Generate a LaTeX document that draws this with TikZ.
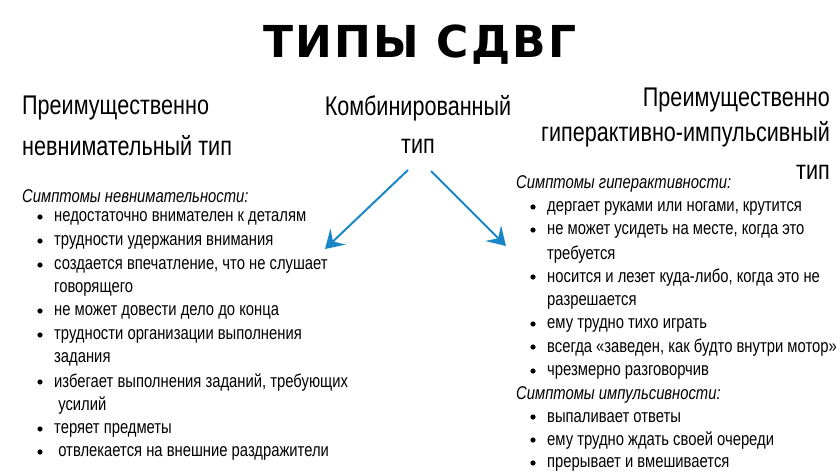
\documentclass[tikz,border=0pt]{standalone}
\usepackage{fontspec}
\setmainfont{Liberation Sans}[FakeStretch=0.8]
\newfontfamily\titlefont{DejaVu Sans}[LetterSpace=5]
\usetikzlibrary{arrows.meta,positioning}
\definecolor{arrowblue}{HTML}{1B86C6}
\tikzset{
  heading/.style={font=\fontsize{27}{30}\selectfont, inner sep=0pt},
  listhead/.style={font=\fontsize{18.5}{21}\selectfont\itshape, anchor=west, inner sep=0pt},
  item/.style={font=\fontsize{18.5}{21}\selectfont, anchor=west, inner sep=0pt},
  pointer/.style={draw=arrowblue, line width=2pt, -{Stealth[length=18pt,width=22pt,inset=7pt]}}
}
\begin{document}
\begin{tikzpicture}[x=1pt,y=-1pt]
  \useasboundingbox (0,0) rectangle (840,473);
  % title
  \node (title) at (420,45) {\titlefont\bfseries\fontsize{44}{50}\selectfont ТИПЫ СДВГ};
  % headings
  \node (inatt1) [heading, anchor=west] at (22,108) {Преимущественно};
  \node (inatt2) [heading, anchor=west] at (22,146) {невнимательный тип};
  \node (comb1) [heading] at (418,108) {Комбинированный};
  \node (comb2) [heading] at (418,146) {тип};
  \node (hyp1) [heading, anchor=east] at (830,100) {Преимущественно};
  \node (hyp2) [heading, anchor=east] at (830,134) {гиперактивно-импульсивный};
  \node (hyp3) [heading, anchor=east] at (830,172) {тип};
  % arrows
  \coordinate (lstart) at (408,170);
  \coordinate (lend) at (325,249);
  \coordinate (rstart) at (431,171);
  \coordinate (rend) at (506,246);
  \draw[pointer] (lstart) -- (lend);
  \draw[pointer] (rstart) -- (rend);
  % left list
  \node (inhead) [listhead] at (22,196) {Симптомы невнимательности:};
  \foreach \y/\b/\t in {218/1/недостаточно внимателен к деталям,
      242/1/трудности удержания внимания,
      266/1/{создается впечатление, что не слушает},
      289/0/говорящего,
      312/1/не может довести дело до конца,
      336/1/трудности организации выполнения,
      359/0/задания,
      383/1/{избегает выполнения заданий, требующих},
      406/0/{\ усилий},
      430/1/теряет предметы,
      453/1/{\ отвлекается на внешние раздражители}} {
    \node [item] at (54,\y) {\t};
    \ifnum\b=1 \fill (40,\y-1) circle (2.6pt); \fi
  }
  % right list
  \node (hyphead) [listhead] at (516,184) {Симптомы гиперактивности:};
  \node (imphead) [listhead] at (516,395) {Симптомы импульсивности:};
  \foreach \y/\b/\t in {208/1/{дергает руками или ногами, крутится},
      231/1/{не может усидеть на месте, когда это},
      255/0/требуется,
      278/1/{носится и лезет куда-либо, когда это не},
      302/0/разрешается,
      325/1/ему трудно тихо играть,
      348/1/{всегда «заведен, как будто внутри мотор»},
      372/1/чрезмерно разговорчив,
      418/1/выпаливает ответы,
      441/1/ему трудно ждать своей очереди,
      464/1/прерывает и вмешивается} {
    \node [item] at (547,\y) {\t};
    \ifnum\b=1 \fill (533,\y-1) circle (2.6pt); \fi
  }
\end{tikzpicture}
\end{document}
